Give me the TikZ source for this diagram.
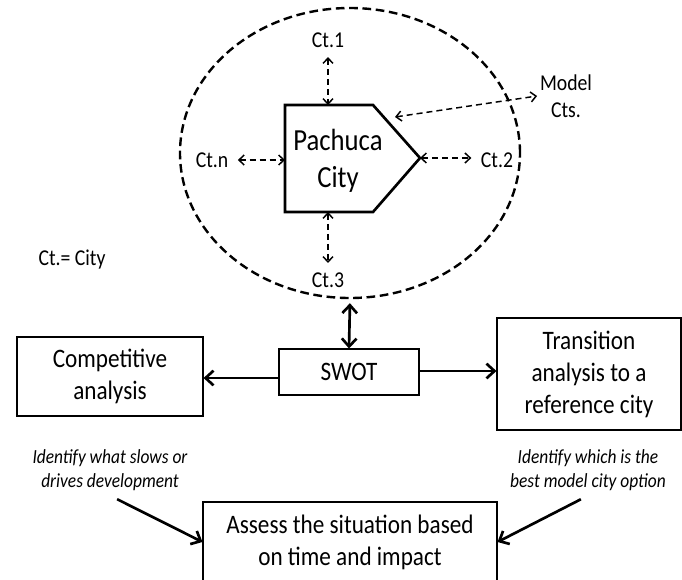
\documentclass[tikz,border=0pt]{standalone}
\usepackage{fontspec}
\setmainfont[FakeStretch=0.87]{Carlito}
\usetikzlibrary{arrows.meta}
\usetikzlibrary{shapes.geometric}

\begin{document}
\begin{tikzpicture}[x=0.75pt, y=-0.75pt,
    dasharrow/.style={line width=1.1pt, dash pattern=on 4.5pt off 3pt,
        {Straight Barb[length=4pt,width=7.5pt]}-{Straight Barb[length=4pt,width=7.5pt]}},
    bigarrow/.style={line width=2pt, -{Straight Barb[length=6pt,width=11pt]}},
    box/.style={draw, line width=0.8pt, align=center, inner sep=0pt,
        font=\fontsize{20}{24}\selectfont},
    small/.style={font=\fontsize{17}{20.5}\selectfont, align=center, inner sep=7pt},
    note/.style={font=\fontsize{15}{18.5}\selectfont\itshape, align=center}]
        \useasboundingbox (0,0) rectangle (682,579);
        \clip (0,0) rectangle (682,579);

        \coordinate (P1) at (285,105);
        \coordinate (P2) at (373,105);
        \coordinate (P3) at (420,158);
        \coordinate (P4) at (373,212);
        \coordinate (P5) at (285,212);
        \coordinate (N) at (328,105);
        \coordinate (S) at (328,212);
        \coordinate (W) at (285,160);
        \coordinate (NE) at (395,117);

        \node[ellipse, draw, line width=1.8pt, dash pattern=on 6.5pt off 3.5pt,
            minimum width=255pt, minimum height=217.5pt] (region) at (350,153) {};
        \draw[line width=2pt] (P1) -- (P2) -- (P3) -- (P4) -- (P5) -- cycle;
        \node[font=\fontsize{23}{28}\selectfont, align=center] (city) at (338,161) {Pachuca\\City};

        \node[small] (ct1) at (328,40) {Ct.1};
        \node[small] (ctn) at (212,160) {Ct.n};
        \node[small] (ct2) at (497,160) {Ct.2};
        \node[small] (ct3) at (328,280) {Ct.3};
        \node[small, inner sep=2pt] (model) at (566,96) {Model\\Cts.};
        \node[small] (legend) at (72,260) {Ct.= City};

        \draw[dasharrow] (ct1) -- (N);
        \draw[dasharrow] (ctn) -- (W);
        \draw[dasharrow] (P3) -- (ct2.west |- P3);
        \draw[dasharrow] (S) -- (ct3);
        \draw[dasharrow] (NE) -- (model.west);

        \node[box, minimum width=105pt, minimum height=34.5pt] (swot) at (349,372) {SWOT};
        \node[box, minimum width=139.5pt, minimum height=59.25pt] (comp) at (110,376.5) {Competitive\\analysis};
        \node[box, minimum width=138pt, minimum height=84pt] (trans) at (589,374) {Transition\\analysis to a\\reference city};
        \node[box, minimum width=220.5pt, minimum height=60pt] (assess) at (350,542) {Assess the situation based\\on time and impact};

        \node[note] (slows) at (110,470) {Identify what slows or\\drives development};
        \node[note] (best) at (588,470) {Identify which is the\\best model city option};

        \draw[line width=2pt, {Straight Barb[length=6pt,width=11pt]}-{Straight Barb[length=6pt,width=11pt]}, shorten <=3pt] (region.south) -- (swot.north);
        \draw[bigarrow] (swot.west |- 0,378) -- (comp.east |- 0,378);
        \draw[bigarrow] (swot.east |- 0,371) -- (trans.west |- 0,371);
        \draw[bigarrow, shorten <=6pt] (slows.south) -- (assess.west);
        \draw[bigarrow, shorten <=6pt] (best.south) -- (assess.east);
\end{tikzpicture}
\end{document}
